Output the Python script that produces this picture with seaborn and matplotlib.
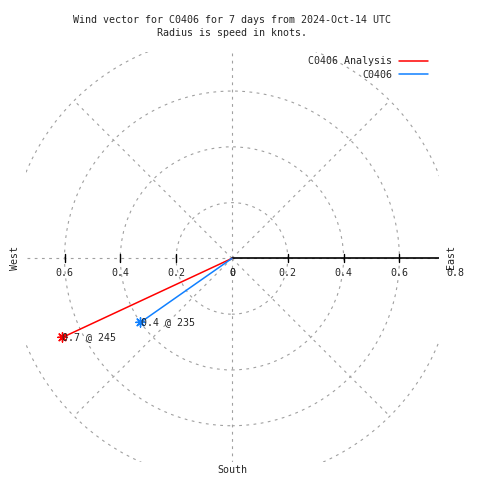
import numpy as np
import pandas as pd
import matplotlib
matplotlib.use('Agg')
import matplotlib.pyplot as plt
from matplotlib.patches import Circle
import seaborn as sns

# Данные: вектор ветра (скорость в узлах, направление в градусах)
series = ['C0406 Analysis', 'C0406']
speeds = [0.67, 0.40]
directions = [245, 235]
point_labels = ['0.7 @ 245', '0.4 @ 235']
colors = ['#ff0000', '#1080ff']

grid_radii = [0.2, 0.4, 0.6, 0.8]
spoke_angles = [0, 45, 90, 135, 180, 225, 270, 315]
tick_values = [0.2, 0.4, 0.6]
right_tick_labels = ['0', '0.2', '0.4', '0.6', '0.8']
left_tick_labels = ['0.6', '0.4', '0.2', '0']

title = 'Wind vector for C0406 for 7 days from 2024-Oct-14 UTC\nRadius is speed in knots.'

sns.set_style('white')
plt.rcParams['font.family'] = ['DejaVu Sans Mono']
FS = 7.2

W = H = 480
fig = plt.figure(figsize=(4.8, 4.8), dpi=100)
ax = fig.add_axes([26 / W, 18 / H, 413 / W, 410 / H])
ax.set_xlim(-0.738, 0.742)
ax.set_ylim(-0.730, 0.740)
ax.axis('off')

grid_kw = dict(color='#a0a0a0', lw=0.8, ls=(0, (2.5, 4)))

# сетка: окружности и лучи
for r in grid_radii:
    ax.add_patch(Circle((0, 0), r, fill=False, **grid_kw))
for a in spoke_angles:
    t = np.deg2rad(a)
    ax.plot([0, 0.8 * np.cos(t)], [0, 0.8 * np.sin(t)], **grid_kw)

# ось радиуса
ax.plot([0, 0.742], [0, 0], color='black', lw=1.2)
for v in tick_values:
    for s in (1, -1):
        ax.plot([s * v, s * v], [-0.014, 0.014], color='black', lw=1)

for i, lab in enumerate(right_tick_labels):
    ax.text(0.2 * i, -0.052, lab, ha='center', va='center', fontsize=FS, clip_on=False)
for i, lab in enumerate(left_tick_labels):
    ax.text(-0.6 + 0.2 * i, -0.052, lab, ha='center', va='center', fontsize=FS)

# векторы
rows = []
for name, sp, d in zip(series, speeds, directions):
    t = np.deg2rad(d)
    for r in (0, sp):
        rows.append({'series': name, 'x': r * np.sin(t), 'y': r * np.cos(t)})
df = pd.DataFrame(rows)
pal = dict(zip(series, colors))
sns.lineplot(data=df, x='x', y='y', hue='series', palette=pal, sort=False,
             estimator=None, lw=1.1, ax=ax)

ends = pd.DataFrame({
    'series': series,
    'x': [s * np.sin(np.deg2rad(d)) for s, d in zip(speeds, directions)],
    'y': [s * np.cos(np.deg2rad(d)) for s, d in zip(speeds, directions)],
})
sns.scatterplot(data=ends, x='x', y='y', hue='series', palette=pal, marker=(8, 2, 0),
                s=45, linewidth=1, legend=False, ax=ax)
for (_, row), lab in zip(ends.iterrows(), point_labels):
    ax.text(row['x'], row['y'], lab, ha='left', va='center', fontsize=FS)
ax.set_xlabel('')
ax.set_ylabel('')

sns.move_legend(ax, 'upper right', bbox_to_anchor=(428 / W, 1 - 56 / H),
                bbox_transform=fig.transFigure, markerfirst=False, frameon=False,
                title=None, fontsize=FS, handlelength=2.9, handletextpad=0.7,
                labelspacing=0.35, borderpad=0, borderaxespad=0)

# подписи сторон света и заголовок
fig.text(15 / W, 1 - 258 / H, 'West', rotation=90, ha='center', va='center', fontsize=FS)
fig.text(451 / W, 1 - 257 / H, 'East', rotation=90, ha='center', va='center', fontsize=FS)
fig.text(232 / W, 1 - 470 / H, 'South', ha='center', va='center', fontsize=FS)
fig.text(232 / W, 1 - 26.5 / H, title, ha='center', va='center', fontsize=FS,
         linespacing=1.3)

fig.savefig('out.png', dpi=100)
